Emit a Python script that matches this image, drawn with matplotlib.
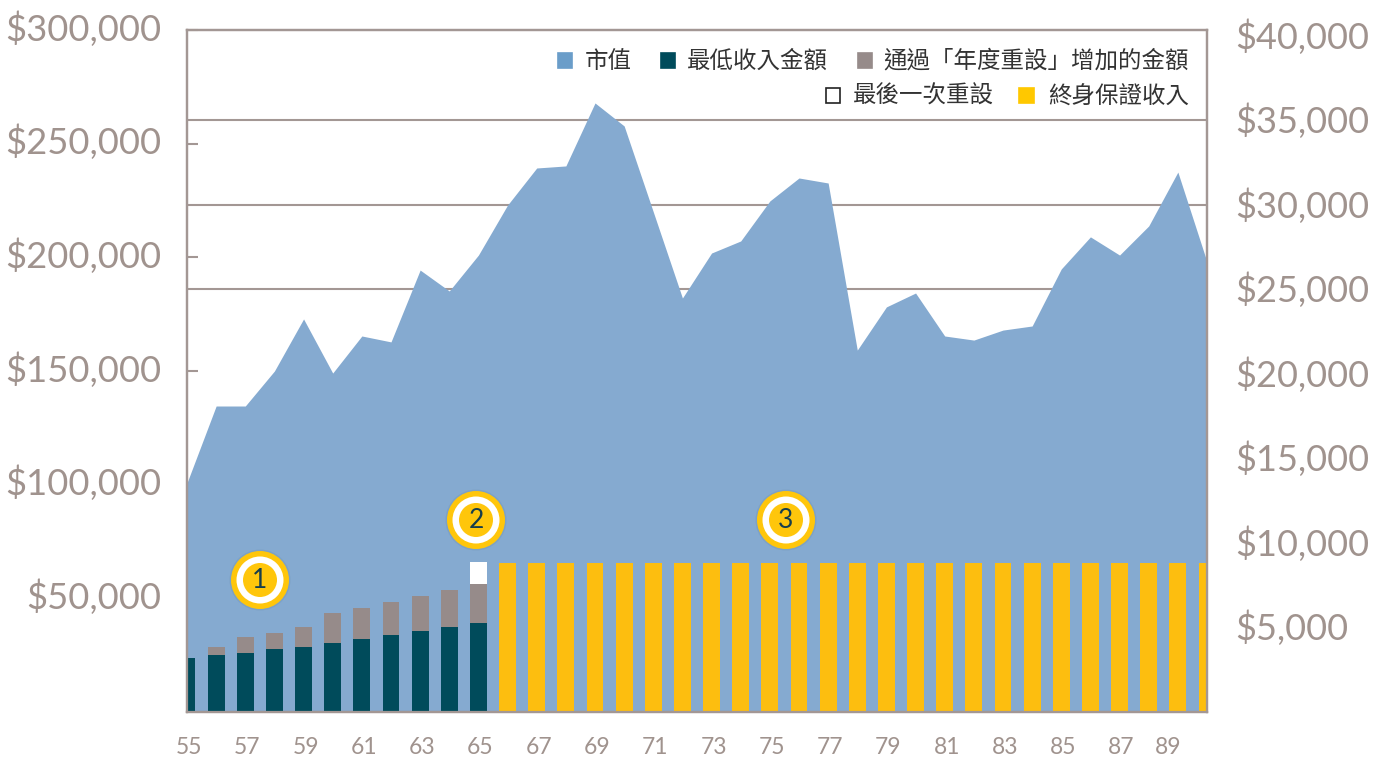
#!/usr/bin/env python3
# -*- coding: utf-8 -*-
import matplotlib
matplotlib.use('Agg')
import matplotlib.pyplot as plt
from matplotlib.patches import Circle, Rectangle
from matplotlib.transforms import ScaledTranslation

# datos
ages = list(range(55, 91))
market_value = [100800, 134600, 134600, 150000, 172900, 149100, 165400, 162800, 194400,
                185200, 201000, 223000, 239300, 240200, 267900, 257800, 220000, 182100,
                201900, 207200, 224800, 234900, 232700, 159200, 178200, 184300, 165400,
                163600, 168000, 169800, 194900, 209000, 201000, 213800, 237500, 198000]

early_ages = list(range(55, 66))
min_income = [3200, 3370, 3490, 3730, 3850, 4080, 4320, 4560, 4790, 5030, 5270]
reset_gain = [0, 480, 950, 940, 1180, 1780, 1830, 1950, 2070, 2190, 2300]
last_reset_age = [65]
last_reset = [1310]
late_ages = list(range(66, 91))
lifetime_income = [8820] * 25

left_ticks = [50000, 100000, 150000, 200000, 250000, 300000]
right_ticks = [5000, 10000, 15000, 20000, 25000, 30000, 35000, 40000]
grid_values = [25000, 30000, 35000]
age_ticks = list(range(55, 90, 2))

labels_row1 = ['市值', '最低收入金額', '通過「年度重設」增加的金額']
labels_row2 = ['最後一次重設', '終身保證收入']
badges = ['1', '2', '3']

AREA = '#85AAD0'
DARK = '#004B5B'
GREY = '#968B8A'
YELLOW = '#FDBE0F'
BADGE = '#FFC60B'
AXIS = '#A39794'
TICK_TEXT = '#A0938E'
W, H = 1383, 758
LEFT_MAX = 300000
RIGHT_MAX = 40355
CJK = ['Noto Sans CJK TC', 'DejaVu Sans']

plt.rcParams['font.family'] = ['Lato', 'DejaVu Sans']

fig = plt.figure(figsize=(W / 100, H / 100), dpi=100)


def nudge(label, dx, dy):
    # desplaza una etiqueta en pixeles (dy positivo = hacia arriba)
    label.set_transform(label.get_transform() + ScaledTranslation(dx / 100, dy / 100, fig.dpi_scale_trans))


ax = fig.add_axes([187 / W, 1 - 712 / H, 1020 / W, 682 / H])
ax.set_xlim(55, 90)
ax.set_ylim(0, LEFT_MAX)

# lineas de fondo en la escala derecha
for v in grid_values:
    ax.axhline(v * LEFT_MAX / RIGHT_MAX, color=AXIS, lw=1.5, zorder=1)
ax.fill_between(ages, market_value, color=AREA, lw=0, zorder=2)

ax.set_yticks(left_ticks)
ax.set_yticklabels([f'${v:,}' for v in left_ticks], fontsize=26.2, color=TICK_TEXT)
ax.tick_params(axis='y', direction='in', length=8, width=1.5, color=AXIS, pad=18.5)
ax.set_xticks(age_ticks)
ax.set_xticklabels([str(a) for a in age_ticks], fontsize=16.5, color=TICK_TEXT)
ax.tick_params(axis='x', length=0, pad=18)
for lab in ax.get_yticklabels():
    nudge(lab, 0, 4)
for lab in ax.get_xticklabels()[:-1]:
    nudge(lab, 2, 0)
# la ultima etiqueta esta corrida en el original
nudge(ax.get_xticklabels()[-1], -10, 0)

ax2 = ax.twinx()
ax2.set_ylim(0, RIGHT_MAX)
bar_w = 0.58
ax2.bar(early_ages, min_income, width=bar_w, color=DARK, lw=0)
ax2.bar(early_ages, reset_gain, bottom=min_income, width=bar_w, color=GREY, lw=0)
ax2.bar(last_reset_age, last_reset, bottom=[min_income[-1] + reset_gain[-1]], width=bar_w, color='white', lw=0)
ax2.bar(late_ages, lifetime_income, width=bar_w, color=YELLOW, lw=0)
ax2.set_yticks(right_ticks)
ax2.set_yticklabels([f'${v:,}' for v in right_ticks], fontsize=26, color=TICK_TEXT)
ax2.tick_params(axis='y', length=0, pad=21)
for lab in ax2.get_yticklabels():
    nudge(lab, -1, 2)

for a in (ax, ax2):
    for s in a.spines.values():
        s.set_color(AXIS)
        s.set_linewidth(1.6)

# capa en pixeles para leyenda y circulos
over = fig.add_axes([0, 0, 1, 1])
over.set_xlim(0, W)
over.set_ylim(H, 0)
over.axis('off')


def legend_item(x0, x1, y, color, text, text_x, edge=None):
    over.add_patch(Rectangle((x0, y - 7.5), x1 - x0, 15, facecolor=color,
                             edgecolor=edge if edge else color, lw=1.2))
    over.text(text_x, y + 1.5, text, family=CJK, fontsize=16.9, color='#333333', ha='left', va='center')


legend_item(558, 572, 60, '#6A9DC9', labels_row1[0], 585)
legend_item(661, 675, 60, DARK, labels_row1[1], 687)
legend_item(858, 872, 60, GREY, labels_row1[2], 883)
legend_item(826, 840, 95, 'white', labels_row2[0], 853, edge='#222222')
legend_item(1019, 1034, 95, '#FFC800', labels_row2[1], 1048)

for num, (cx, cy) in zip(badges, [(260, 580), (476, 520), (786, 520)]):
    over.add_patch(Circle((cx, cy), 30.5, color='#6E93B5', alpha=0.35, lw=0))
    over.add_patch(Circle((cx, cy), 29, color=BADGE, lw=0))
    over.add_patch(Circle((cx, cy), 23.5, color='white', lw=0))
    over.add_patch(Circle((cx, cy), 17, color=BADGE, lw=0))
    over.text(cx, cy + 1, num, fontsize=19, color='#173E4C', ha='center', va='center')

fig.savefig('out.png', dpi=100)
